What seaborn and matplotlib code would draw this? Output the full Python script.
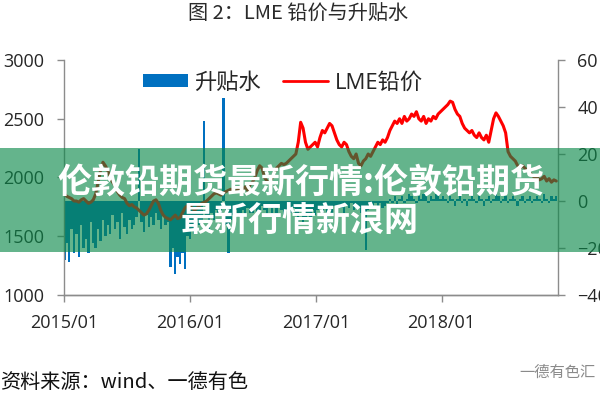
import matplotlib
matplotlib.use("Agg")
import matplotlib.pyplot as plt
import matplotlib.dates as mdates
from matplotlib.patches import Patch, Rectangle
from matplotlib.lines import Line2D
import pandas as pd
import seaborn as sns

# weekly LME lead price (USD/t), grouped by month
price_2015 = [1860, 1840, 1830, 1820, 1800,  1800, 1790, 1810, 1820,
              1800, 1780, 1790, 1810,  1860, 1960, 2060, 2130,
              2100, 2060, 2000, 1960, 1930,  1880, 1850, 1830, 1820,
              1780, 1760, 1770, 1750, 1740,  1720, 1700, 1680, 1690,
              1720, 1760, 1800, 1810,  1780, 1720, 1680, 1660, 1650,
              1640, 1660, 1680, 1650,  1660, 1700, 1740, 1760]
price_2016 = [1760, 1740, 1720, 1740, 1760,  1780, 1790, 1800, 1820,
              1840, 1860, 1870, 1860,  1850, 1870, 1880, 1890, 1900,
              1890, 1880, 1900, 1910,  1900, 1920, 1890, 1940,
              1960, 2000, 2060, 2100, 2080,  2000, 1970, 1960, 1990,
              2040, 2080, 2100, 2120, 2110,  2120, 2140, 2160, 2180,
              2200, 2300, 2470, 2420,  2300, 2240, 2260, 2280, 2300]
price_2017 = [2260, 2340, 2400, 2380,  2420, 2460, 2440, 2380,
              2320, 2280, 2260, 2300, 2280,  2220, 2180, 2160, 2200,
              2120, 2100, 2140, 2160,  2200, 2180, 2220, 2260, 2300,
              2280, 2320, 2300, 2340,  2400, 2440, 2480, 2460,
              2500, 2460, 2520, 2480, 2500,  2540, 2520, 2560, 2500,
              2480, 2520, 2460, 2500,  2480, 2520, 2500, 2540, 2560]
price_2018 = [2580, 2600, 2620, 2650,  2640, 2580, 2540, 2520,
              2460, 2420, 2400, 2380, 2400,  2360, 2340, 2380, 2340,
              2320, 2360, 2300, 2400,  2500, 2550, 2520, 2480, 2440,
              2380, 2220, 2180, 2160,  2140, 2100, 2080, 2100, 2080,
              2060, 2040, 2020, 2000,  2000, 1980, 1990, 2010,
              1970, 1990, 1960, 1980, 1970]

# weekly cash-3M spread (USD/t)
spread_2015 = [-25, -18, -26, -12, -22,  -14, -24, -10, -20,
               -16, -22, -9, -18,  -20, -12, -17, -8,
               -15, -10, -14, -6, -12,  -9, -16, -5, -11,
               -14, -8, -12, -10, -7,  22, -9, -13, -6,
               -11, -7, -10, -5,  -8, -12, -6, -10, -9,
               -28, -20, -31, -24,  -27, -22, -29, -15]
spread_2016 = [-16, -12, -14, -8, -10,  -9, 34, -6, -12,
               -5, -8, -4, -6,  -6, 44, -10, -22, -8,
               -6, -4, -7, -5,  -4, -6, -3, -5,
               -5, -3, -6, -4, -2,  -4, -6, -3, -5,
               -3, -5, -2, -4, -6,  -4, -8, -5, -3,
               -6, -11, -4, -9,  -7, -5, -10, -4, -6]
spread_2017 = [-4, -2, -5, -3,  -11, -3, -6, -2,
               -4, -2, -3, -5, -2,  -3, -1, -4, -2,
               -3, -5, -2, -21,  -4, -2, -3, -1, -2,
               -1, -3, -2, -1,  1, -1, 2, -2,
               1, 2, -1, 1, 3,  2, 1, -1, 2,
               1, 3, 2, -1,  2, 1, 3, 2, 1]
spread_2018 = [2, 1, -1, 2,  1, -2, 1, 2,
               -1, 1, -2, 1, 2,  1, -1, 2, 1,
               -2, 1, 2, -1,  1, 3, 2, -1, 1,
               2, -1, 1, 2,  1, -2, 1, 2, -1,
               1, 2, -1, 1,  2, 1, -1, 3,
               1, -1, 2, 1, 2]

price = price_2015 + price_2016 + price_2017 + price_2018
spread = spread_2015 + spread_2016 + spread_2017 + spread_2018
dates = pd.date_range("2015-01-02", periods=len(price), freq="7D")

price_ticks = [1000, 1500, 2000, 2500, 3000]
spread_ticks = [-40, -20, 0, 20, 40, 60]

sns.set_theme(style="white")
plt.rcParams["font.family"] = ["Open Sans", "Noto Sans CJK SC", "DejaVu Sans"]
cjk = ["Noto Sans CJK SC", "DejaVu Sans"]

fig = plt.figure(figsize=(6, 4), dpi=100)
ax = fig.add_axes([64 / 600, 1 - 295 / 400, 494 / 600, 235 / 400])
ax2 = ax.twinx()
ax.set_zorder(2)
ax.patch.set_visible(False)

ax2.bar(dates, spread, width=7, color="#0070c0", linewidth=0)
sns.lineplot(x=dates, y=price, ax=ax, color="#ff0000", linewidth=2.2)

ax.set_xlim(pd.Timestamp("2015-01-01"), pd.Timestamp("2018-12-05"))
ax.set_ylim(1000, 3000)
ax.set_yticks(price_ticks)
ax2.set_ylim(-40, 60)
ax2.set_yticks(spread_ticks)
ax.xaxis.set_major_locator(mdates.YearLocator())
ax.xaxis.set_major_formatter(mdates.DateFormatter("%Y/%m"))
ax.set_xlabel("")
ax.set_ylabel("")

grey = "#8c8c8c"
for a in (ax, ax2):
    a.spines["top"].set_visible(False)
    for side in ("left", "right", "bottom"):
        a.spines[side].set_color(grey)
        a.spines[side].set_linewidth(1)
    a.tick_params(axis="both", which="major", length=5, width=1, color=grey,
                  labelsize=13, labelcolor="#262626", pad=9)
ax.tick_params(axis="y", left=True)
ax.tick_params(axis="x", bottom=True)
ax2.tick_params(axis="y", right=True)
ax.spines["right"].set_visible(False)
ax2.spines["left"].set_visible(False)

handles = [Patch(facecolor="#0070c0", edgecolor="none"),
           Line2D([0], [0], color="#ff0000", linewidth=2)]
ax.legend(handles, ["升贴水", "LME铅价"], loc="center", bbox_to_anchor=(0.443, 0.902),
          ncol=2, frameon=False, fontsize=16, handlelength=2.0, handleheight=0.55,
          handletextpad=0.3, columnspacing=1.0)

fig.text(0.497, 1 - 14 / 400, "图 2：LME 铅价与升贴水", ha="center", va="center",
         fontsize=14.5, color="#2a2a2a", family=cjk)
fig.text(0.0, 1 - 382 / 400, "资料来源：wind、一德有色", ha="left", va="center",
         fontsize=14.5, color="#111111", family=cjk)
fig.text(0.992, 1 - 372 / 400, "一德有色汇", ha="right", va="center",
         fontsize=11, color="#8a8a8a", family=cjk)

# green banner overlay
fig.add_artist(Rectangle((0, 1 - 252 / 400), 1, 104 / 400, transform=fig.transFigure,
                         facecolor="#0a8849", alpha=0.63, edgecolor="none", zorder=10))
fig.text(0.502, 1 - 182 / 400, "伦敦铅期货最新行情:伦敦铅期货", ha="center", va="center",
         fontsize=24.5, fontweight="bold", color="white", zorder=11, family=cjk)
fig.text(0.5, 1 - 220 / 400, "最新行情新浪网", ha="center", va="center",
         fontsize=24.5, fontweight="bold", color="white", zorder=11, family=cjk)

fig.savefig("out.png", dpi=100)
